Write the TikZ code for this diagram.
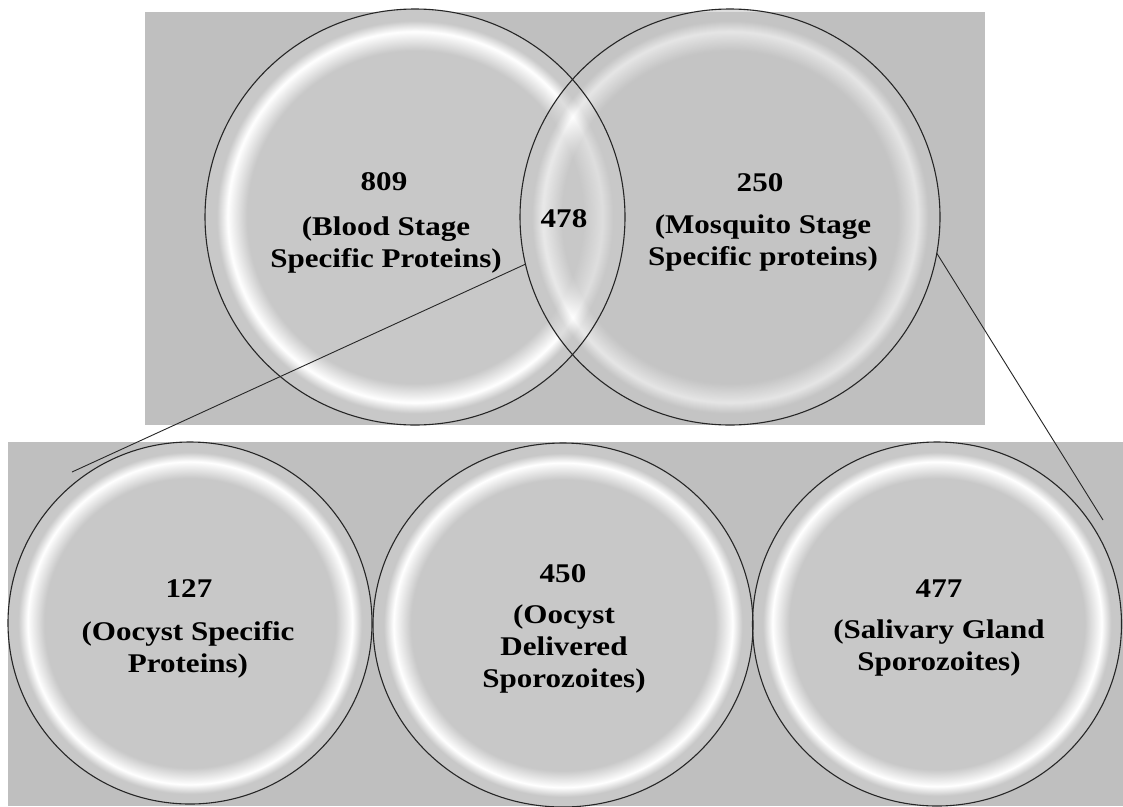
\documentclass[tikz,border=0pt]{standalone}
\usepackage{fontspec}
\setmainfont{Liberation Serif}[FakeStretch=1.15]
\usetikzlibrary{shapes.geometric}
\definecolor{bggray}{RGB}{191,191,191}
\definecolor{cin}{RGB}{200,200,200}
\pgfdeclareradialshading{glass}{\pgfpoint{0bp}{0bp}}{color(0bp)=(cin); color(20bp)=(cin); color(22.3bp)=(white); color(23.6bp)=(cin); color(25bp)=(cin); color(50bp)=(cin)}
\tikzset{
  venn/.style={ellipse, inner sep=0pt, shading=glass},
  ring/.style={draw=black!85, line width=1.1pt},
  panel/.style={fill=bggray, draw=none},
  num/.style={font=\bfseries\fontsize{27}{32}\selectfont, text=black, anchor=base, inner sep=0pt},
  lab/.style={font=\bfseries\fontsize{27}{32}\selectfont, text=black, align=center, anchor=base, inner sep=0pt},
  link/.style={draw=black!85, line width=0.9pt}
}
\begin{document}
\begin{tikzpicture}[x=1pt,y=-1pt]
\useasboundingbox[fill=white] (0,0) rectangle (1123,806);
% top panel
\fill[panel] (145,12) rectangle (985,425);
\node[venn, minimum width=420pt, minimum height=416pt] (tl) at (415,217) {};
\node[venn, minimum width=420pt, minimum height=416pt, fill opacity=0.6] (tr) at (730,217) {};
\draw[ring] (tl.center) ellipse [x radius=210pt, y radius=208pt];
\draw[ring] (tr.center) ellipse [x radius=210pt, y radius=208pt];
% bottom panel
\fill[panel] (8,442) rectangle (1123,806);
\node[venn, minimum width=364pt, minimum height=362pt] (bl) at (190,623) {};
\node[venn, minimum width=380pt, minimum height=364pt] (bm) at (563,625) {};
\node[venn, minimum width=369pt, minimum height=364pt] (br) at (937,624) {};
\draw[ring] (bl.center) ellipse [x radius=182pt, y radius=181pt];
\draw[ring] (bm.center) ellipse [x radius=190pt, y radius=182pt];
\draw[ring] (br.center) ellipse [x radius=184.5pt, y radius=182pt];
% texts (base anchor = baseline of last line)
\node[num] (n809) at (384,190) {809};
\node[lab] (t809) at (386,267) {(Blood Stage\\Specific Proteins)};
\node[num] (n478) at (564,227) {478};
\node[num] (n250) at (760,191) {250};
\node[lab] (t250) at (763,265) {(Mosquito Stage\\Specific proteins)};
\node[num] (n127) at (189,597) {127};
\node[lab] (t127) at (188,672) {(Oocyst Specific\\Proteins)};
\node[num] (n450) at (563,582) {450};
\node[lab] (t450) at (564,687) {(Oocyst\\Delivered\\Sporozoites)};
\node[num] (n477) at (939,597) {477};
\node[lab] (t477) at (939,670) {(Salivary Gland\\Sporozoites)};
% connectors
\coordinate (e1) at (72,472);
\coordinate (e2) at (1103,520);
\draw[link] (tr.193.6) -- (e1);
\draw[link] (tr.350.5) -- (e2);
\end{tikzpicture}
\end{document}
